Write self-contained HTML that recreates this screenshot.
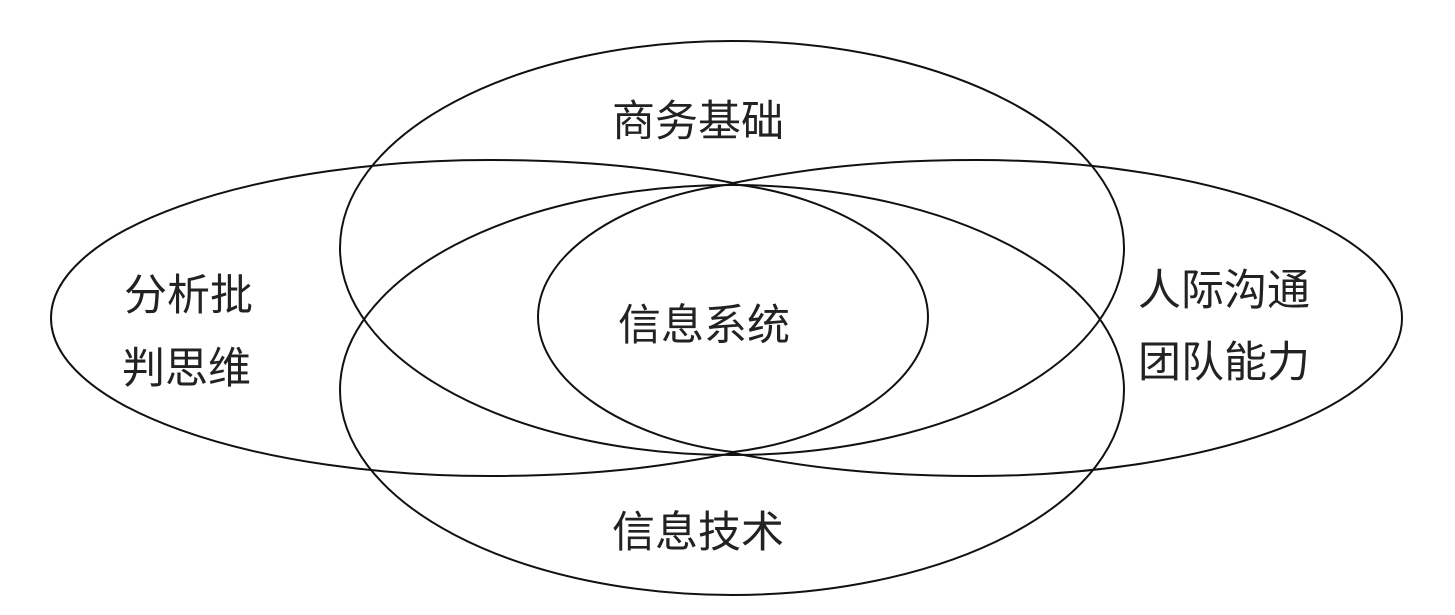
<!DOCTYPE html>
<html><head><meta charset="utf-8"><style>
body{margin:0;background:#fff;}
svg{display:block}
text{font-family:"Liberation Sans","Noto Sans CJK SC",sans-serif;font-size:43px;fill:#222;}
</style></head><body>
<svg width="1455" height="615" viewBox="0 0 1455 615">
<g fill="none" stroke="#111" stroke-width="2">
<ellipse cx="732" cy="248" rx="392" ry="207"/>
<ellipse cx="732" cy="390" rx="392" ry="205"/>
<path d="M733,183 C676,172 606,160 490,160 A439 158 0 0 0 51,318 A439 158 0 0 0 490,476 C606,476 676,464 733,453"/>
<path d="M733,183 C790,172 860,160 976,160 A426 158 0 0 1 1402,318 A426 158 0 0 1 976,476 C860,476 790,464 733,453"/>
<path d="M733,184 C835,196 928,250 928,317 C928,384 835,440 733,452 C631,440 538,384 538,317 C538,250 631,196 733,184 Z"/>
</g>
<text x="612" y="136">商务基础</text>
<text x="618" y="340">信息系统</text>
<text x="124" y="310">分析批</text>
<text x="122" y="383">判思维</text>
<text x="1138" y="305">人际沟通</text>
<text x="1138" y="377">团队能力</text>
<text x="612" y="547">信息技术</text>
</svg>
</body></html>
